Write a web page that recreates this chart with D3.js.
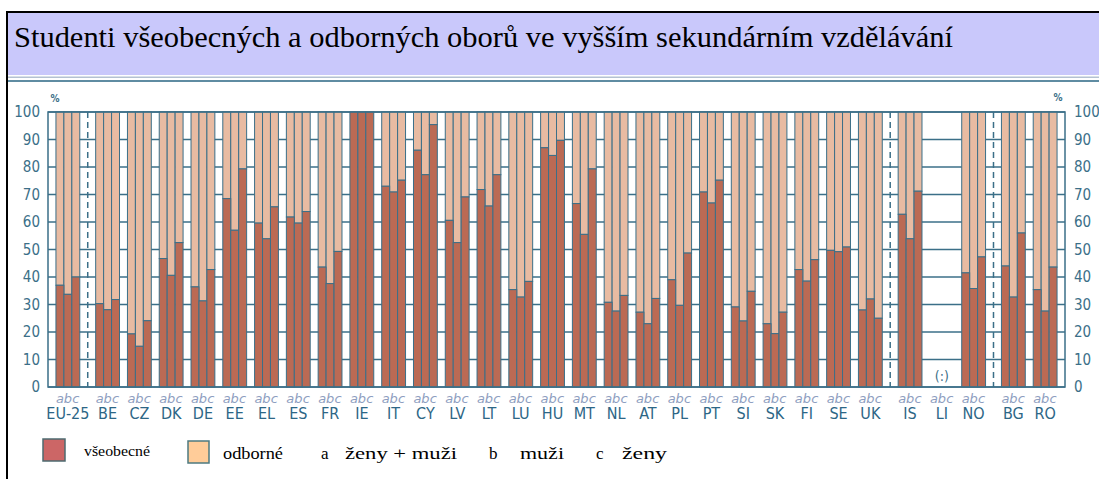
<!DOCTYPE html>
<html><head><meta charset="utf-8">
<script src="https://cdn.jsdelivr.net/npm/d3@7"></script>
<style>body{margin:0;background:#fff}svg{display:block}</style>
</head><body>
<svg id="c" width="1099" height="479"></svg>
<script>
const categories = ["EU-25","BE","CZ","DK","DE","EE","EL","ES","FR","IE","IT","CY","LV","LT","LU","HU","MT","NL","AT","PL","PT","SI","SK","FI","SE","UK","IS","LI","NO","BG","RO"];
// share of general (všeobecné) programmes, %
const generalA = [37,30.3,19.3,46.7,36.4,68.5,59.6,61.8,43.6,100,73,86.1,60.6,71.8,35.4,87,66.7,30.8,27.2,39,70.9,29.1,23,42.7,49.7,28,62.8,null,41.5,44,35.4]; // a ženy + muži
const generalB = [33.7,28.1,14.8,40.6,31.3,57,53.9,59.6,37.6,100,70.9,77.2,52.5,65.8,32.7,84.2,55.5,27.6,23,29.7,66.9,24,19.4,38.5,49.2,32,53.9,null,35.8,32.7,27.6]; // b muži
const generalC = [40,31.8,24.1,52.5,42.7,79.3,65.5,63.8,49.3,100,75.2,95.4,69.1,77.2,38.4,89.7,79.3,33.3,32.2,48.7,75.2,34.8,27.2,46.3,50.9,25,71.2,null,47.3,56,43.6]; // c ženy
const separatorsAfter = ["EU-25","UK","NO"];
const subKeys = ["a","b","c"];
const yTicks = [0,10,20,30,40,50,60,70,80,90,100];
const legendItems = ["všeobecné","odborné"];
const legendKeys = [["a","ženy + muži"],["b","muži"],["c","ženy"]];
const title = "Studenti všeobecných a odborných oborů ve vyšším sekundárním vzdělávání";

const svg = d3.select("#c");
const teal = "#3b6f88";
const darkC = "#bb6a54", lightC = "#e8bba2";
const condensed = "'Liberation Sans Narrow','DejaVu Sans Condensed','Arial Narrow',sans-serif";
const serif = "'Liberation Serif','Times New Roman',serif";

// frame & header
svg.append("rect").attr("x",8).attr("y",13).attr("width",1091).attr("height",62).attr("fill","#c9c8fb");
svg.append("rect").attr("x",6).attr("y",11).attr("width",1093).attr("height",2).attr("fill","#000");
svg.append("rect").attr("x",6).attr("y",11).attr("width",2).attr("height",468).attr("fill","#000");
svg.append("rect").attr("x",8).attr("y",76.5).attr("width",1091).attr("height",1.5).attr("fill","#b4c2d2");
svg.append("rect").attr("x",8).attr("y",80).attr("width",1091).attr("height",2).attr("fill","#5f8ca2");

svg.append("text").attr("x",14).attr("y",47).attr("font-family",serif).attr("font-size",29)
  .attr("textLength",939).attr("lengthAdjust","spacingAndGlyphs").attr("fill","#000").text(title);

// layout in units
let unit = 1;
const groups = categories.map((c,i)=>{
  const g = {name:c, start:unit, vals:[generalA[i],generalB[i],generalC[i]]};
  unit += 3;
  if (i < categories.length-1) {
    if (separatorsAfter.includes(c)) { g.sep = unit + 1; unit += 2; } else unit += 1;
  }
  return g;
});
unit += 1;
const x = d3.scaleLinear().domain([0,unit]).range([48,1065]);
const y = d3.scaleLinear().domain([0,100]).range([387,112]);
const inner = d3.scaleBand().domain(subKeys).range([0,3]);

const plot = svg.append("g");
plot.selectAll("line.grid").data(yTicks).join("line")
  .attr("x1",x(0)).attr("x2",x(unit)).attr("y1",d=>y(d)).attr("y2",d=>y(d))
  .attr("stroke",teal).attr("stroke-width",1.5);
plot.selectAll("line.sep").data(groups.filter(g=>g.sep)).join("line")
  .attr("x1",d=>x(d.sep)).attr("x2",d=>x(d.sep)).attr("y1",y(100)).attr("y2",y(0))
  .attr("stroke",teal).attr("stroke-width",1.5).attr("stroke-dasharray","6,4");

const bars = [];
groups.forEach(g=>subKeys.forEach((k,j)=>{ if (g.vals[j]!=null) bars.push({g, k, v:g.vals[j]}); }));
const bx = d=>x(d.g.start + inner(d.k));
const bw = x(inner.bandwidth()) - x(0);
plot.selectAll("rect.light").data(bars).join("rect")
  .attr("x",bx).attr("width",bw).attr("y",y(100)).attr("height",d=>y(d.v)-y(100))
  .attr("fill",lightC).attr("stroke",teal).attr("stroke-width",1);
plot.selectAll("rect.dark").data(bars).join("rect")
  .attr("x",bx).attr("width",bw).attr("y",d=>y(d.v)).attr("height",d=>y(0)-y(d.v))
  .attr("fill",darkC).attr("stroke",teal).attr("stroke-width",1);
plot.append("rect").attr("x",x(0)).attr("y",y(100)).attr("width",x(unit)-x(0)).attr("height",y(0)-y(100))
  .attr("fill","none").attr("stroke",teal).attr("stroke-width",1.5);

groups.filter(g=>g.vals.every(v=>v==null)).forEach(g=>{
  plot.append("text").attr("x",x(g.start+1.5)).attr("y",y(0)-6).attr("text-anchor","middle")
    .attr("font-family",condensed).attr("font-size",14).attr("fill",teal).text("(:)");
});

const axL = d3.axisLeft(y).tickValues(yTicks).tickSize(0).tickPadding(8);
const axR = d3.axisRight(y).tickValues(yTicks).tickSize(0).tickPadding(9);
[[axL,x(0)],[axR,x(unit)]].forEach(([ax,px])=>{
  const g = svg.append("g").attr("transform",`translate(${px},0)`).call(ax);
  g.select(".domain").remove();
  g.selectAll("text").attr("font-family",condensed).attr("font-size",15).attr("fill",teal);
});
svg.append("text").attr("x",55).attr("y",102).attr("text-anchor","middle").attr("font-family",condensed).attr("font-size",10).attr("font-weight","bold").attr("fill",teal).text("%");
svg.append("text").attr("x",1058).attr("y",101).attr("text-anchor","middle").attr("font-family",condensed).attr("font-size",10).attr("font-weight","bold").attr("fill",teal).text("%");

const sub = [];
groups.forEach(g=>subKeys.forEach(k=>sub.push({g,k})));
svg.selectAll("text.sub").data(sub).join("text")
  .attr("x",d=>x(d.g.start+inner(d.k)+inner.bandwidth()/2)).attr("y",403).attr("text-anchor","middle")
  .attr("font-family","'DejaVu Sans',sans-serif").attr("font-style","italic").attr("font-size",13).attr("fill","#8e9ec0")
  .text(d=>d.k);
svg.selectAll("text.cat").data(groups).join("text")
  .attr("x",d=>x(d.start+1.5)).attr("y",419).attr("text-anchor","middle")
  .attr("font-family",condensed).attr("font-size",16).attr("fill","#2d6686").text(d=>d.name);

// legend
const lg = svg.append("g");
lg.append("rect").attr("x",43).attr("y",439).attr("width",22).attr("height",22).attr("fill","#cc6666").attr("stroke","#4d6b70").attr("stroke-width",1.5);
lg.append("text").attr("x",84).attr("y",456).attr("font-family",serif).attr("font-size",15)
  .attr("textLength",66).attr("lengthAdjust","spacingAndGlyphs").text(legendItems[0]);
lg.append("rect").attr("x",188).attr("y",441).attr("width",21).attr("height",22).attr("fill","#ffcc99").attr("stroke","#4d7a80").attr("stroke-width",1.5);
lg.append("text").attr("x",223).attr("y",459).attr("font-family",serif).attr("font-size",16)
  .attr("textLength",60).attr("lengthAdjust","spacingAndGlyphs").text(legendItems[1]);
const kx = [[321,345,112],[489,520,44],[596,622,45]];
legendKeys.forEach((k,i)=>{
  lg.append("text").attr("x",kx[i][0]).attr("y",459).attr("font-family",serif).attr("font-size",17).text(k[0]);
  lg.append("text").attr("x",kx[i][1]).attr("y",459).attr("font-family",serif).attr("font-size",17)
    .attr("textLength",kx[i][2]).attr("lengthAdjust","spacingAndGlyphs").text(k[1]);
});
</script>
</body></html>
